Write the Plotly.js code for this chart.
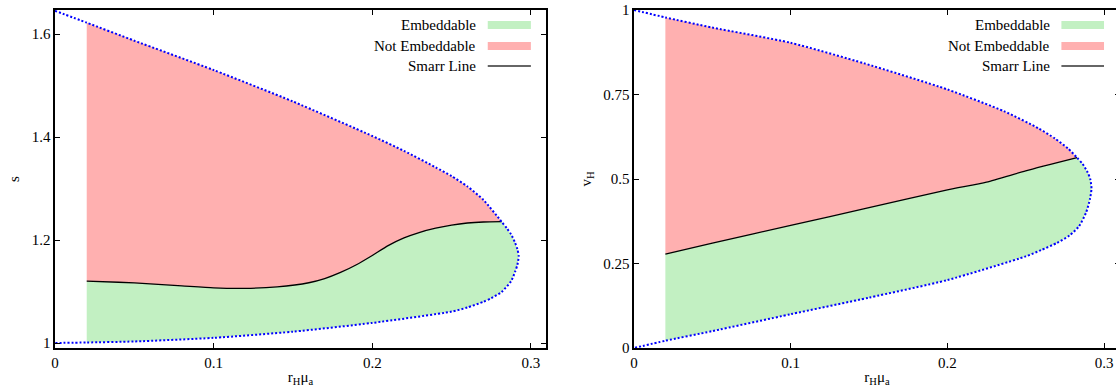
<!DOCTYPE html>
<html>
<head>
<meta charset="utf-8">
<script src="https://cdn.plot.ly/plotly-3.0.1.min.js"></script>
<style>
html,body{margin:0;padding:0;overflow:hidden;background:#fff;}
#chart{width:1120px;height:390px;}
</style>
</head>
<body>
<div id="chart"></div>
<script>
// ---- Left panel (s vs r_H mu_a) ----
// boundary curve, from top-left around the tip back to bottom-left
const boundLeftX = [0, 0.02, 0.05, 0.1, 0.15, 0.2, 0.22, 0.24, 0.25, 0.26, 0.27, 0.2815, 0.285, 0.2875, 0.29, 0.2915, 0.2923, 0.2915, 0.29, 0.2875, 0.2815, 0.275, 0.27, 0.26, 0.25, 0.2, 0.15, 0.1, 0.05, 0.02, 0];
const boundLeftY = [1.645, 1.622, 1.587, 1.530, 1.469, 1.402, 1.373, 1.341, 1.324, 1.304, 1.278, 1.2357, 1.222, 1.211, 1.195, 1.182, 1.169, 1.152, 1.138, 1.120, 1.099, 1.087, 1.080, 1.069, 1.061, 1.039, 1.022, 1.010, 1.003, 1.001, 1.0];
// Smarr line
const smarrLeftX = [0.02, 0.04, 0.06, 0.08, 0.1, 0.12, 0.14, 0.16, 0.17, 0.18, 0.19, 0.2, 0.21, 0.22, 0.23, 0.24, 0.25, 0.26, 0.27, 0.2815];
const smarrLeftY = [1.120, 1.118, 1.115, 1.111, 1.107, 1.106, 1.109, 1.117, 1.125, 1.137, 1.152, 1.170, 1.189, 1.204, 1.215, 1.223, 1.229, 1.233, 1.235, 1.2357];

// ---- Right panel (v_H vs r_H mu_a) ----
const boundRightX = [0, 0.02, 0.05, 0.1, 0.147, 0.2, 0.2364, 0.2581, 0.2686, 0.2771, 0.2828, 0.2863, 0.2895, 0.2912, 0.292, 0.291, 0.2885, 0.284, 0.278, 0.27, 0.26, 0.25, 0.2, 0.15, 0.1, 0.05, 0.02, 0];
const boundRightY = [1.0, 0.978, 0.948, 0.903, 0.842, 0.765, 0.700, 0.650, 0.620, 0.590, 0.563, 0.545, 0.520, 0.500, 0.472, 0.440, 0.400, 0.360, 0.333, 0.311, 0.290, 0.271, 0.201, 0.149, 0.100, 0.050, 0.0215, 0.0];
const smarrRightX = [0.02, 0.05, 0.1, 0.15, 0.2, 0.225, 0.25, 0.2828];
const smarrRightY = [0.278, 0.310, 0.363, 0.415, 0.468, 0.491, 0.524, 0.563];

const xTickVals = [0, 0.1, 0.2, 0.3];
const yTickLeft = [1, 1.2, 1.4, 1.6];
const yTickRight = [0, 0.25, 0.5, 0.75, 1];
const legendLabels = ['Embeddable', 'Not Embeddable', 'Smarr Line'];

const GREEN = 'rgb(194,240,194)';
const RED = 'rgb(255,176,176)';
const BLUE = 'rgb(0,0,255)';

function regions(bx, by, sx, sy) {
  const iTop = bx.indexOf(sx[0]);
  const iJ = bx.indexOf(sx[sx.length - 1]);
  const iBot = bx.lastIndexOf(sx[0]);
  const redX = bx.slice(iTop, iJ + 1).concat(sx.slice().reverse());
  const redY = by.slice(iTop, iJ + 1).concat(sy.slice().reverse());
  const greenX = sx.concat(bx.slice(iJ + 1, iBot + 1));
  const greenY = sy.concat(by.slice(iJ + 1, iBot + 1));
  return {redX, redY, greenX, greenY};
}

const L = regions(boundLeftX, boundLeftY, smarrLeftX, smarrLeftY);
const R = regions(boundRightX, boundRightY, smarrRightX, smarrRightY);

function panel(reg, bx, by, sx, sy, xa, ya) {
  return [
    {x: reg.greenX, y: reg.greenY, xaxis: xa, yaxis: ya, type: 'scatter', mode: 'lines',
     fill: 'toself', fillcolor: GREEN, line: {width: 0, color: GREEN}, hoverinfo: 'skip'},
    {x: reg.redX, y: reg.redY, xaxis: xa, yaxis: ya, type: 'scatter', mode: 'lines',
     fill: 'toself', fillcolor: RED, line: {width: 0, color: RED}, hoverinfo: 'skip'},
    {x: sx, y: sy, xaxis: xa, yaxis: ya, type: 'scatter', mode: 'lines',
     line: {color: 'black', width: 1.3, shape: 'spline', smoothing: 0.6}},
    {x: bx, y: by, xaxis: xa, yaxis: ya, type: 'scatter', mode: 'lines',
     line: {color: BLUE, width: 2, dash: '2px,2px', shape: 'spline', smoothing: 0.6}}
  ];
}

const data = panel(L, boundLeftX, boundLeftY, smarrLeftX, smarrLeftY, 'x', 'y')
  .concat(panel(R, boundRightX, boundRightY, smarrRightX, smarrRightY, 'x2', 'y2'));

function F(sz) { return {family: '"Liberation Serif"', size: sz || 15, color: '#000000'}; }

function xAxis(dom, anchor, rmax) {
  return {domain: dom, anchor: anchor, range: [0, rmax], tickvals: xTickVals,
    ticks: 'inside', ticklen: 5, tickwidth: 1, tickcolor: 'black', mirror: 'ticks',
    showline: true, linecolor: 'black', linewidth: 1.6, showgrid: false, zeroline: false,
    tickfont: F(), fixedrange: true,
    title: {text: 'r<sub>H</sub>μ<sub>a</sub>', font: F(), standoff: 2}};
}
function yAxis(anchor, range, ticks, title) {
  return {anchor: anchor, domain: [0, 1], range: range, tickvals: ticks,
    ticks: 'inside', ticklen: 5, tickwidth: 1, tickcolor: 'black', mirror: 'ticks',
    showline: true, linecolor: 'black', linewidth: 1.6, showgrid: false, zeroline: false,
    tickfont: F(), fixedrange: true,
    title: {text: title, font: F(), standoff: 8}};
}

const shapes = [];
const annotations = [];
const rowY = [0.9556, 0.8935, 0.834];
[['x', 'y'], ['x2', 'y2']].forEach(([xa, ya]) => {
  legendLabels.forEach((lab, i) => {
    annotations.push({xref: xa, yref: ya + ' domain', x: 0.2665, y: rowY[i], text: lab,
      showarrow: false, xanchor: 'right', yanchor: 'middle', font: F()});
  });
  shapes.push({type: 'rect', xref: xa, yref: ya + ' domain', x0: 0.2728, x1: 0.3,
    y0: rowY[0] - 0.012, y1: rowY[0] + 0.012, fillcolor: GREEN, line: {width: 0}});
  shapes.push({type: 'rect', xref: xa, yref: ya + ' domain', x0: 0.2728, x1: 0.3,
    y0: rowY[1] - 0.012, y1: rowY[1] + 0.012, fillcolor: RED, line: {width: 0}});
  shapes.push({type: 'line', xref: xa, yref: ya + ' domain', x0: 0.2728, x1: 0.3,
    y0: rowY[2], y1: rowY[2], line: {color: '#333', width: 1.5}});
});

const layout = {
  width: 1120, height: 390,
  margin: {l: 55, r: 0, t: 10, b: 42},
  paper_bgcolor: 'white', plot_bgcolor: 'white',
  showlegend: false,
  font: F(),
  xaxis: xAxis([0, 0.4610], 'y', 0.3095),
  yaxis: yAxis('x', [0.9903, 1.6466], yTickLeft, 's'),
  xaxis2: xAxis([0.5437, 1], 'y2', 0.3102),
  yaxis2: yAxis('x2', [0, 1], yTickRight, 'v<sub>H</sub>'),
  shapes: shapes,
  annotations: annotations
};

Plotly.newPlot('chart', data, layout, {displayModeBar: false, staticPlot: true});
</script>
</body>
</html>
